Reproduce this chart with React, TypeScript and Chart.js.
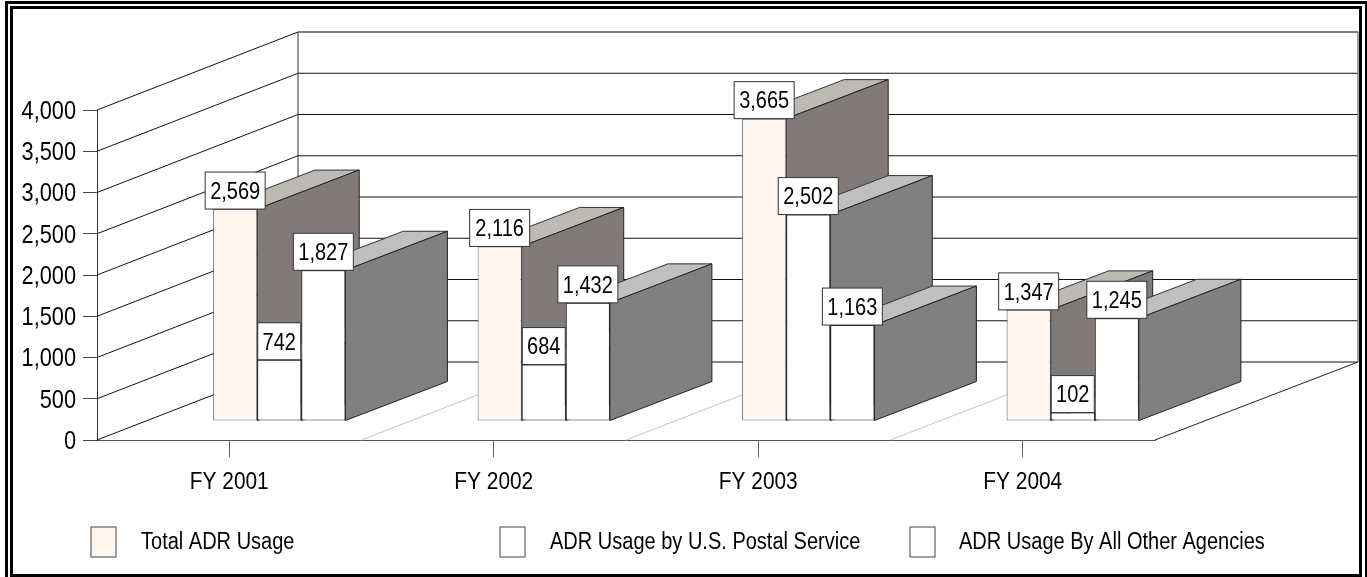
import { useEffect, useRef } from "react";
import { Chart, registerables } from "chart.js";

Chart.register(...registerables);

const categories = ["FY 2001", "FY 2002", "FY 2003", "FY 2004"];
const totalUsage = [2569, 2116, 3665, 1347];
const postalUsage = [742, 684, 2502, 102];
const otherUsage = [1827, 1432, 1163, 1245];
const seriesNames = ["Total ADR Usage", "ADR Usage by U.S. Postal Service", "ADR Usage By All Other Agencies"];
const seriesColors = [[255, 246, 240], [255, 255, 255], [255, 255, 255]];
const legendSlots = [[91, 141], [500, 550], [910, 959]];

const WALL = { dx: 201, dy: -78, right: 1358 };
const BAR_SHIFT = { x: 50, y: -19 };
const BAR_DEPTH = { dx: 102, dy: -39 };
const TEXT_SQUEEZE = 0.87;
const FONT = "'Liberation Sans', Arial, sans-serif";

const rgb = (c: number[], k = 1) => `rgb(${c.map((v) => Math.round(v * k)).join(",")})`;

function line(ctx: CanvasRenderingContext2D, pts: number[][], color: string, width = 1) {
  ctx.beginPath();
  pts.forEach(([x, y], i) => (i ? ctx.lineTo(x, y) : ctx.moveTo(x, y)));
  ctx.strokeStyle = color;
  ctx.lineWidth = width;
  ctx.stroke();
}

function polygon(ctx: CanvasRenderingContext2D, pts: number[][], fill: string, stroke: string) {
  ctx.beginPath();
  pts.forEach(([x, y], i) => (i ? ctx.lineTo(x, y) : ctx.moveTo(x, y)));
  ctx.closePath();
  ctx.fillStyle = fill;
  ctx.fill();
  ctx.strokeStyle = stroke;
  ctx.lineWidth = 1;
  ctx.stroke();
}

// The chart is framed, and its Arial-like text is narrower than the font's natural width.
const framePlugin = {
  id: "frame",
  beforeDraw(chart: any) {
    const ctx = chart.ctx;
    if (!ctx.__squeezed) {
      const fill = ctx.fillText.bind(ctx);
      ctx.fillText = (t: string, x: number, y: number) => fill(t, x, y, ctx.measureText(t).width * TEXT_SQUEEZE);
      ctx.__squeezed = true;
    }
    ctx.save();
    ctx.fillStyle = "#fff";
    ctx.fillRect(0, 0, chart.width, chart.height);
    ctx.strokeStyle = "#000";
    ctx.lineWidth = 3;
    ctx.strokeRect(6.5, 2.5, 1360, 576);
    ctx.strokeRect(11.5, 7.5, 1349, 568);
    ctx.restore();
  },
};

function drawWalls(chart: any) {
  const ctx = chart.ctx;
  const { x: xs, y: ys } = chart.scales;
  const { left, right, bottom } = chart.chartArea;
  const backX = left + WALL.dx;
  ys.ticks.forEach((t: any) => {
    const y = ys.getPixelForValue(t.value);
    line(ctx, [[left, y], [backX, y + WALL.dy]], "#111");
    const isTop = t.value === ys.max;
    line(ctx, [[backX, y + WALL.dy], [WALL.right, y + WALL.dy]], isTop ? "#555" : "#111", isTop ? 1.5 : 1);
  });
  const top = ys.getPixelForValue(ys.max) + WALL.dy;
  const floor = bottom + WALL.dy;
  line(ctx, [[backX, top], [backX, floor]], "#333");
  line(ctx, [[WALL.right, top], [WALL.right, floor]], "#888", 1.5);
  line(ctx, [[right, bottom], [WALL.right, floor]], "#222");
  const step = (right - left) / xs.ticks.length;
  for (let i = 1; i < xs.ticks.length; i++) {
    const x = left + step * i;
    line(ctx, [[x, bottom], [x + WALL.dx, floor]], "#c4c4c4");
  }
}

function drawValueBoxes(chart: any) {
  const ctx = chart.ctx;
  ctx.font = `23px ${FONT}`;
  ctx.textAlign = "center";
  ctx.textBaseline = "middle";
  chart.data.datasets.forEach((ds: any, i: number) => {
    chart.getDatasetMeta(i).data.forEach((bar: any, j: number) => {
      const text = ds.data[j].toLocaleString("en-US");
      const w = text.length > 3 ? 60 : 43;
      const h = 37;
      const { x, y } = bar.getProps(["x", "y"], true);
      ctx.fillStyle = "#fff";
      ctx.fillRect(x - w / 2, y - h, w, h);
      ctx.strokeStyle = "#333";
      ctx.lineWidth = 1;
      ctx.strokeRect(x - w / 2, y - h, w, h);
      ctx.fillStyle = "#000";
      ctx.fillText(text, x, y - h / 2 + 2);
    });
  });
}

function drawLegend(chart: any) {
  const ctx = chart.ctx;
  ctx.font = `23px ${FONT}`;
  ctx.textBaseline = "middle";
  ctx.textAlign = "left";
  chart.data.datasets.forEach((ds: any, i: number) => {
    const [boxX, textX] = legendSlots[i];
    ctx.fillStyle = ds.backgroundColor;
    ctx.fillRect(boxX, 527, 25, 30);
    ctx.strokeStyle = "#444";
    ctx.lineWidth = 1;
    ctx.strokeRect(boxX, 527, 25, 30);
    ctx.fillStyle = "#000";
    ctx.fillText(ds.label, textX, 543);
  });
}

// Bars stand back on the floor; series are painted left to right so each one covers the side
// face of the one before it, which is the reverse of the library's own dataset order.
const scenePlugin = {
  id: "scene",
  beforeDatasetsDraw(chart: any) {
    const ctx = chart.ctx;
    ctx.save();
    drawWalls(chart);
    ctx.translate(BAR_SHIFT.x, BAR_SHIFT.y);
    chart.data.datasets.forEach((_: any, i: number) => {
      const meta = chart.getDatasetMeta(i);
      const color = seriesColors[i];
      meta.data.forEach((bar: any) => {
        const { x, y, base, width } = bar.getProps(["x", "y", "base", "width"], true);
        const l = x - width / 2;
        const r = x + width / 2;
        const { dx, dy } = BAR_DEPTH;
        polygon(ctx, [[l, y], [r, y], [r + dx, y + dy], [l + dx, y + dy]], rgb(color, 0.75), "#333");
        polygon(ctx, [[r, y], [r + dx, y + dy], [r + dx, base + dy], [r, base]], rgb(color, 0.5), "#222");
      });
      meta.controller.draw();
    });
    drawValueBoxes(chart);
    ctx.restore();
    ctx.save();
    drawLegend(chart);
    ctx.restore();
    return false;
  },
};

export default function App() {
  const ref = useRef<HTMLCanvasElement>(null);

  useEffect(() => {
    const chart = new Chart(ref.current!, {
      type: "bar",
      data: {
        labels: categories,
        datasets: [totalUsage, postalUsage, otherUsage].map((data, i) => ({
          label: seriesNames[i],
          data,
          backgroundColor: rgb(seriesColors[i]),
          borderColor: i === 0 ? "#666" : "#222",
          borderWidth: 1,
          borderSkipped: false,
        })),
      } as any,
      options: {
        responsive: false,
        animation: false,
        events: [],
        categoryPercentage: 0.5,
        barPercentage: 1,
        layout: { padding: { top: 110, right: 212, left: 0, bottom: 0 } },
        plugins: { legend: { display: false }, title: { display: false }, tooltip: { enabled: false } },
        scales: {
          x: {
            afterFit: (s: any) => { s.height = 137; },
            grid: { offset: false, drawOnChartArea: false, tickLength: 17, color: "#666" },
            border: { color: "#555" },
            ticks: { color: "#000", padding: 11, font: { family: FONT, size: 24 }, maxRotation: 0 },
          },
          y: {
            min: 0,
            max: 4000,
            afterFit: (s: any) => { s.width = 97; },
            grid: { drawOnChartArea: false, tickLength: 14, color: "#444" },
            border: { color: "#333" },
            ticks: {
              stepSize: 500,
              color: "#000",
              padding: 7,
              labelOffset: 2,
              font: { family: FONT, size: 25 },
              callback: (v: any) => Number(v).toLocaleString("en-US"),
            },
          },
        },
      } as any,
      plugins: [framePlugin, scenePlugin],
    });
    return () => chart.destroy();
  }, []);

  return (
    <canvas
      ref={ref}
      width={1367}
      height={577}
      style={{ position: "fixed", left: 0, top: 0, display: "block" }}
    />
  );
}
